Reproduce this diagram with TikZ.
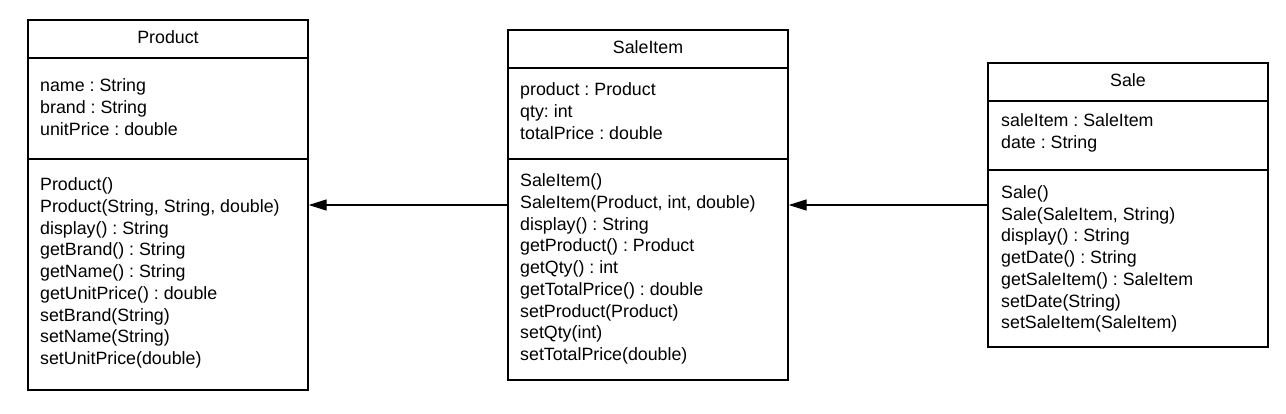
\documentclass[tikz,border=0pt]{standalone}
\usepackage{fontspec}
\setmainfont{Liberation Sans}
\usetikzlibrary{arrows.meta}
\frenchspacing
\begin{document}
\begin{tikzpicture}[x=1pt,y=-1pt,
  box/.style={draw, line width=1.4pt, inner sep=0pt, fill=white},
  txt/.style={anchor=west, align=left, inner sep=0pt, font=\fontsize{17.8}{21.7}\selectfont},
  ttl/.style={inner sep=0pt, font=\fontsize{17.8}{21.7}\selectfont},
  divider/.style={line width=1.4pt},
  conn/.style={line width=1.4pt, -{Triangle[length=18pt,width=11pt]}}]
\useasboundingbox[fill=white] (0,0) rectangle (1286,413);
% Product
\node[box, minimum width=280pt, minimum height=370pt] (product) at (168,205) {};
\draw[divider] (product.west |- 0,58) -- (product.east |- 0,58);
\draw[divider] (product.west |- 0,159) -- (product.east |- 0,159);
\node[ttl] (productT) at (168,37) {Product};
\node[txt] (productA) at (40,107) {name : String\\brand : String\\unitPrice : double};
\node[txt] (productM) at (40,273) {Product()\\Product(String, String, double)\\display() : String\\getBrand() : String\\getName() : String\\getUnitPrice() : double\\setBrand(String)\\setName(String)\\setUnitPrice(double)};
% SaleItem
\node[box, minimum width=280pt, minimum height=350pt] (saleitem) at (648,205) {};
\draw[divider] (saleitem.west |- 0,68) -- (saleitem.east |- 0,68);
\draw[divider] (saleitem.west |- 0,159) -- (saleitem.east |- 0,159);
\node[ttl] (saleitemT) at (648,47) {SaleItem};
\node[txt] (saleitemA) at (520,111) {product : Product\\qty: int\\totalPrice : double};
\node[txt] (saleitemM) at (520,269) {SaleItem()\\SaleItem(Product, int, double)\\display() : String\\getProduct() : Product\\getQty() : int\\getTotalPrice() : double\\setProduct(Product)\\setQty(int)\\setTotalPrice(double)};
% Sale
\node[box, minimum width=280pt, minimum height=284pt] (sale) at (1128,205) {};
\draw[divider] (sale.west |- 0,101) -- (sale.east |- 0,101);
\draw[divider] (sale.west |- 0,170) -- (sale.east |- 0,170);
\node[ttl] (saleT) at (1128,80) {Sale};
\node[txt] (saleA) at (1001,133) {saleItem : SaleItem\\date : String};
\node[txt] (saleM) at (1001,259) {Sale()\\Sale(SaleItem, String)\\display() : String\\getDate() : String\\getSaleItem() : SaleItem\\setDate(String)\\setSaleItem(SaleItem)};
% connectors
\draw[conn] (saleitem.west) -- (product.east);
\draw[conn] (sale.west) -- (saleitem.east);
\end{tikzpicture}
\end{document}
